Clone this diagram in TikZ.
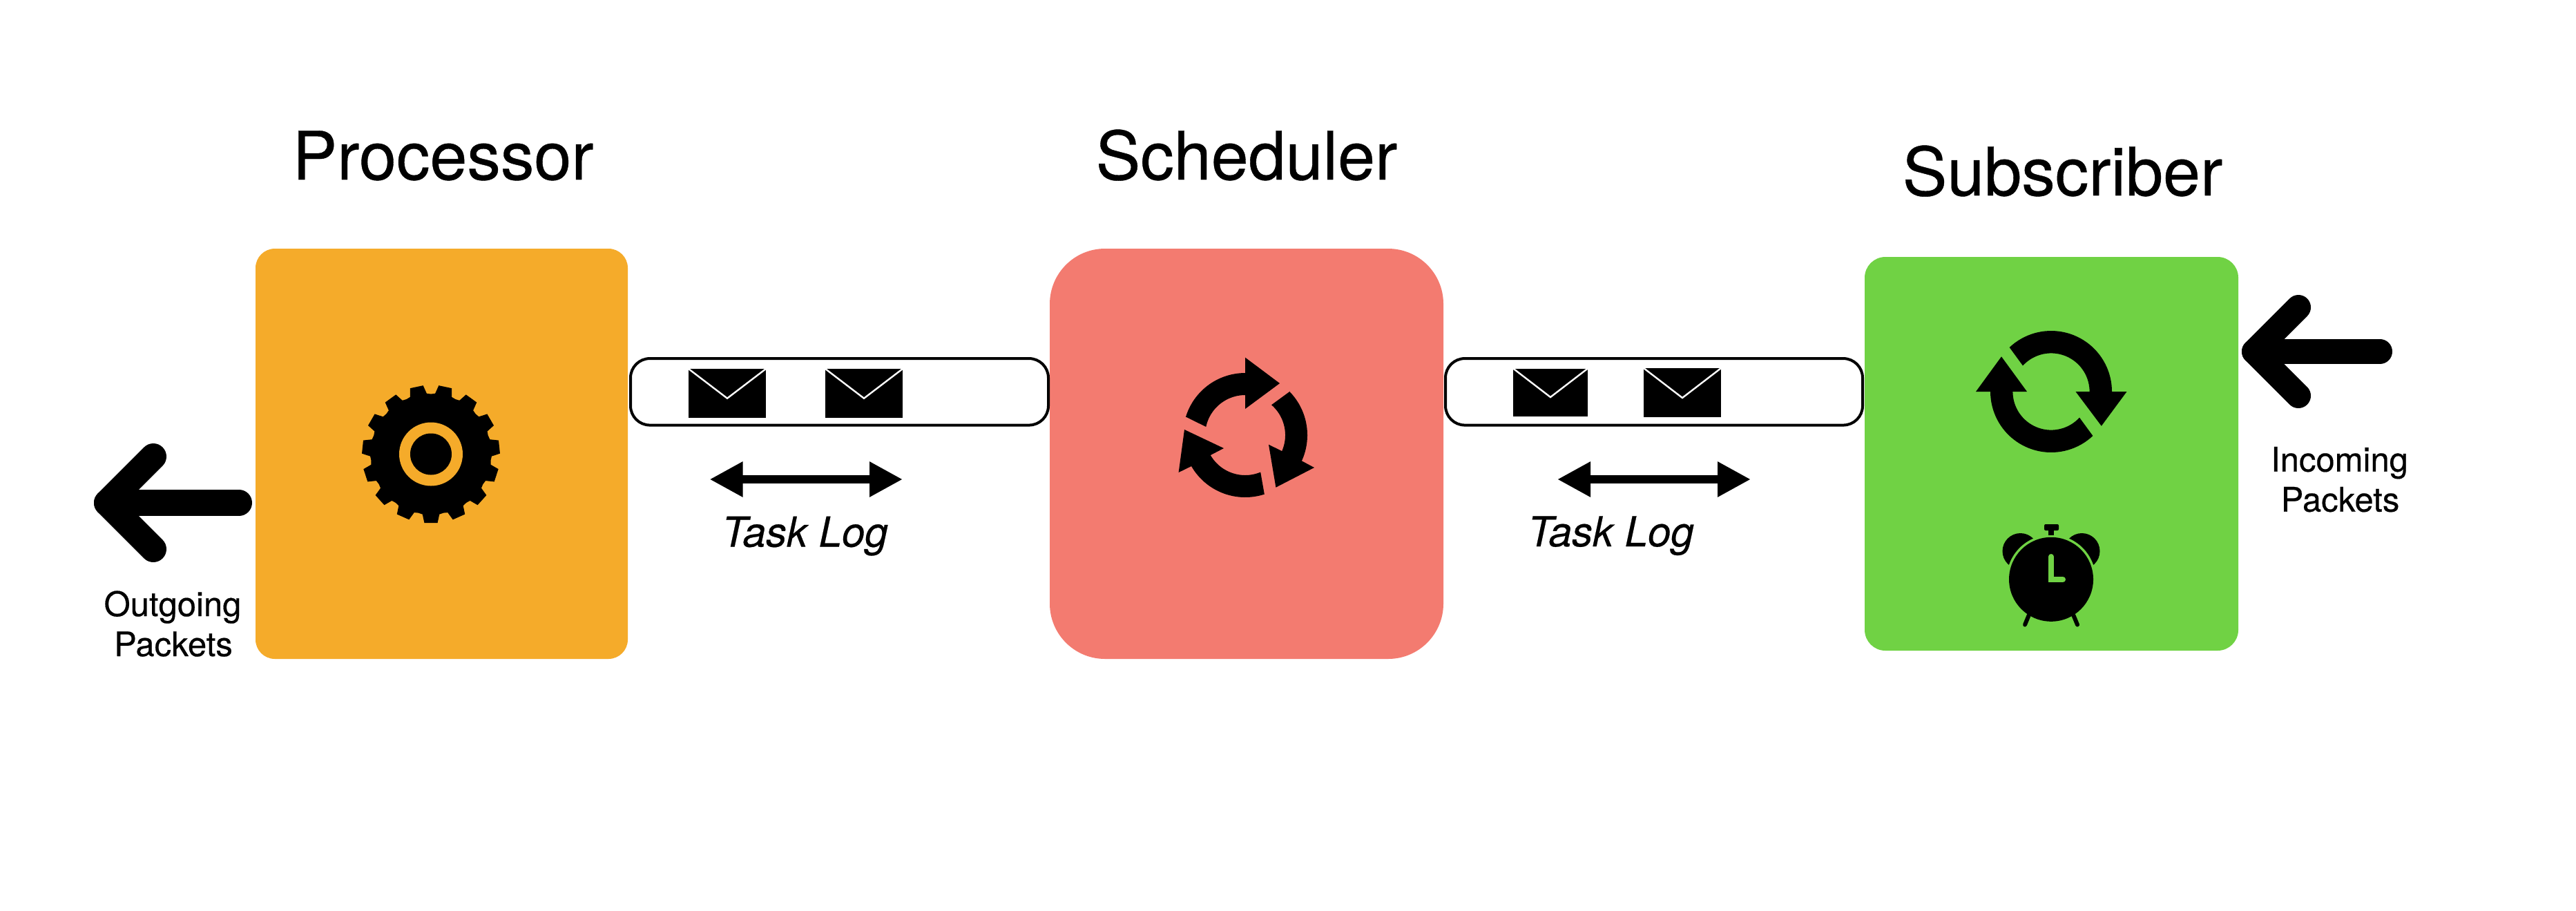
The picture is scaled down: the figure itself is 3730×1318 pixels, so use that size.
\documentclass[tikz,border=0pt]{standalone}
\usepackage{fontspec}
\setmainfont{TeX Gyre Heros}[FakeBold=0.4]
\usetikzlibrary{arrows.meta}
\definecolor{procol}{HTML}{F5AB2A}
\definecolor{schedcol}{HTML}{F37B70}
\definecolor{subcol}{HTML}{70D244}
\tikzset{
  panel/.style={inner sep=0pt,outer sep=0pt,draw=none},
  logbox/.style={draw=black,line width=4pt,fill=white,rounded corners=28pt,inner sep=0pt,outer sep=0pt,minimum height=96.5pt},
  envbox/.style={fill=black,inner sep=0pt,outer sep=0pt,minimum width=112pt},
  flap/.style={draw=white,line width=2.4pt,line join=miter},
  title/.style={anchor=base,inner sep=0pt,font=\fontsize{97}{97}\selectfont},
  small/.style={anchor=base,inner sep=0pt,font=\fontsize{49}{49}\selectfont},
  loglabel/.style={anchor=base,inner sep=0pt,font=\fontsize{60}{60}\selectfont\itshape},
  bigarrow/.style={draw=black,line width=38pt,line cap=round,line join=round},
  twoway/.style={draw=black,line width=12pt,{Triangle[length=48pt,width=48pt]}-{Triangle[length=48pt,width=48pt]}},
}
\begin{document}
\begin{tikzpicture}[x=1pt,y=-1pt]
\useasboundingbox[fill=white] (0,0) rectangle (3730,1318);

% panels
\node[panel,fill=procol,minimum width=539pt,minimum height=594pt,rounded corners=28pt] (processor) at (639.5,657) {};
\node[panel,fill=schedcol,minimum width=570pt,minimum height=594pt,rounded corners=80pt] (scheduler) at (1805,657) {};
\node[panel,fill=subcol,minimum width=541pt,minimum height=570pt,rounded corners=30pt] (subscriber) at (2970.5,657) {};

% titles
\node[title] (tproc) at (641.5,260) {Processor};
\node[title] (tsched) at (1805,260) {Scheduler};
\node[title] (tsub) at (2986.5,283) {Subscriber};

% log boxes
\node[logbox,minimum width=605pt] (log1) at (1215.5,567.3) {};
\node[logbox,minimum width=604pt] (log2) at (2395,567.3) {};

% envelopes
\node[envbox,minimum height=71pt] (e1) at (1053,569.5) {};
\coordinate (a1) at (1053,576.7);
\draw[flap] (e1.north west) -- (a1) -- (e1.north east);
\node[envbox,minimum height=71pt] (e2) at (1251,569.5) {};
\coordinate (a2) at (1251,576.7);
\draw[flap] (e2.north west) -- (a2) -- (e2.north east);
\node[envbox,minimum width=108pt,minimum height=69pt] (e3) at (2245,568) {};
\coordinate (a3) at (2245,575);
\draw[flap] (e3.north west) -- (a3) -- (e3.north east);
\node[envbox,minimum height=71pt] (e4) at (2436,568.5) {};
\coordinate (a4) at (2436,576);
\draw[flap] (e4.north west) -- (a4) -- (e4.north east);

% two-way arrows and labels
\coordinate (tw1a) at (1027.5,694); \coordinate (tw1b) at (1307,694);
\draw[twoway] (tw1a) -- (tw1b);
\coordinate (tw2a) at (2255,694); \coordinate (tw2b) at (2535,694);
\draw[twoway] (tw2a) -- (tw2b);
\node[loglabel] (l1) at (1165.5,791.5) {Task Log};
\node[loglabel] (l2) at (2332.5,791) {Task Log};

% outgoing arrow
\coordinate (otip) at (155,728); \coordinate (oend) at (346,728);
\coordinate (ou) at (222,661); \coordinate (od) at (222,795);
\draw[bigarrow] (ou) -- (otip) -- (od);
\draw[bigarrow] (otip) -- (oend);
\node[small] (o1) at (250,892) {Outgoing};
\node[small] (o2) at (251,950) {Packets};

% incoming arrow
\coordinate (itip) at (3264,509); \coordinate (iend) at (3446,509);
\coordinate (iu) at (3328,445); \coordinate (id) at (3328,573);
\draw[bigarrow,line width=36pt] (iu) -- (itip) -- (id);
\draw[bigarrow,line width=36pt] (itip) -- (iend);
\node[small] (i1) at (3387.5,682.7) {Incoming};
\node[small] (i2) at (3388.5,740.7) {Packets};

% gear
\fill[black] ({624+88*cos(-98)},{657.5-88*sin(-98)})
  \foreach \a in {-90,-66,...,246} {
    -- ({624+100*cos(\a-5.5)},{657.5-100*sin(\a-5.5)})
    -- ({624+100*cos(\a+5.5)},{657.5-100*sin(\a+5.5)})
    -- ({624+88*cos(\a+8)},{657.5-88*sin(\a+8)})
    -- ({624+87*cos(\a+12)},{657.5-87*sin(\a+12)})
    -- ({624+88*cos(\a+16)},{657.5-88*sin(\a+16)})
  } -- cycle;
\fill[procol] (624,657.5) circle[radius=46pt];
\fill[black] (624,657.5) circle[radius=30pt];

% scheduler cycle icon
\fill[black] (1718,604)
  -- plot[domain=163:90,samples=30] ({1803+90*cos(\x)},{630-90*sin(\x)})
  -- (1803,517.6) -- (1853,555) -- (1803,592)
  -- plot[domain=90:168,samples=30] ({1803+58*cos(\x)},{630-58*sin(\x)}) -- cycle;
\fill[black] (1868,566.5)
  -- plot[domain=44.5:-24.5,samples=30] ({1803+90*cos(\x)},{630-90*sin(\x)})
  -- (1903,677) -- (1847.4,705.7) -- (1837,643.7)
  -- plot[domain=-23.5:49,samples=30] ({1803+58*cos(\x)},{630-58*sin(\x)}) -- cycle;
\fill[black] (1715,622) -- (1772,649)
  -- plot[domain=210:292.5,samples=30] ({1803+58*cos(\x)},{630-58*sin(\x)})
  -- plot[domain=288:210,samples=30] ({1803+90*cos(\x)},{630-90*sin(\x)})
  -- (1706.6,684) -- cycle;

% subscriber sync icon
\fill[black]
  plot[domain=133.3:0,samples=40] ({2970+88*cos(\x)},{567-88*sin(\x)})
  -- (3079.5,567) -- (3042.8,616.7) -- (3005.5,567)
  -- plot[domain=0:137.5,samples=40] ({2970+55.6*cos(\x)},{567-55.6*sin(\x)}) -- cycle;
\fill[black]
  plot[domain=313.3:180,samples=40] ({2970+88*cos(\x)},{567-88*sin(\x)})
  -- (2861,567) -- (2898,516.3) -- (2935,567)
  -- plot[domain=180:317.5,samples=40] ({2970+55.6*cos(\x)},{567-55.6*sin(\x)}) -- cycle;

% alarm clock
\fill[black] (2925.5,798) circle[radius=26pt];
\fill[black] (3014.5,798) circle[radius=26pt];
\fill[subcol] (2970,838.8) circle[radius=64.5pt];
\fill[black] (2970,838.8) circle[radius=61pt];
\fill[black,rounded corners=2pt] (2960,759) rectangle (2981,768);
\fill[black] (2966,767) rectangle (2974,775);
\draw[black,line width=6pt,line cap=round] (2937.6,891) -- (2932,904.5);
\draw[black,line width=6pt,line cap=round] (3002.4,891) -- (3008,904.5);
\draw[subcol,line width=8pt,line cap=round,line join=miter] (2970,806) -- (2970,839) -- (2987,839);
\end{tikzpicture}
\end{document}
